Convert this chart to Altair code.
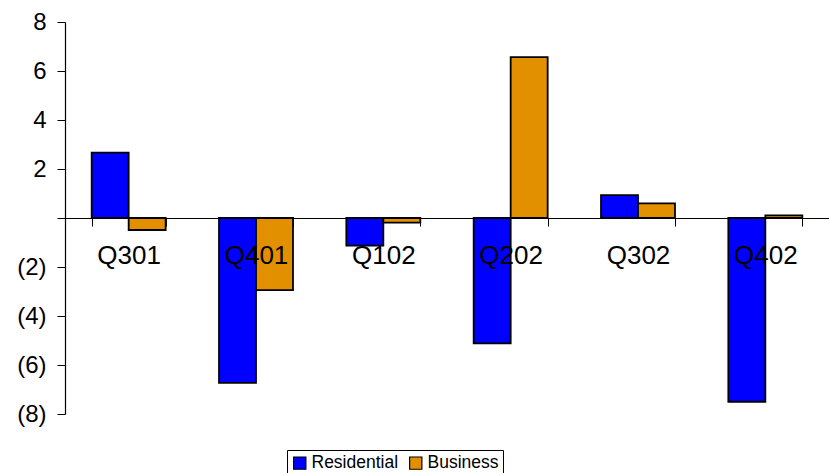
import altair as alt
import pandas as pd

quarters = ["Q301", "Q401", "Q102", "Q202", "Q302", "Q402"]
residential = [2.67, -6.73, -1.13, -5.12, 0.93, -7.5]
business = [-0.49, -2.94, -0.19, 6.57, 0.6, 0.11]
series = ["Residential", "Business"]
colors = ["#0000FF", "#E39000"]

rows = []
for q, r, b in zip(quarters, residential, business):
    rows.append({"quarter": q, "series": "Residential", "value": r})
    rows.append({"quarter": q, "series": "Business", "value": b})
df = pd.DataFrame(rows)

FONT = "Liberation Sans"
W, H = 764, 392

bars = alt.Chart(df).mark_bar(stroke="black", strokeWidth=1.8).encode(
    x=alt.X(
        "quarter:N",
        sort=quarters,
        scale=alt.Scale(paddingInner=0.419, paddingOuter=0.2095),
        axis=alt.Axis(
            title=None,
            offset=-196,
            zindex=1,
            domainColor="black",
            domainWidth=1.2,
            tickColor="black",
            tickBand="extent",
            tickSize=8,
            labelAngle=0,
            labelFont=FONT,
            labelFontSize=26,
            labelColor="black",
            labelPadding=16,
            labelBaseline="top",
            grid=False,
        ),
    ),
    xOffset=alt.XOffset("series:N", sort=series),
    y=alt.Y(
        "value:Q",
        scale=alt.Scale(domain=[-8, 8], nice=False, zero=True),
        axis=alt.Axis(
            title=None,
            values=[-8, -6, -4, -2, 0, 2, 4, 6, 8],
            labelExpr="datum.value == 0 ? '' : (datum.value < 0 ? '(' + (-datum.value) + ')' : '' + datum.value)",
            domainColor="black",
            domainWidth=1.2,
            tickColor="black",
            tickSize=8,
            labelFont=FONT,
            labelFontSize=24,
            labelColor="black",
            labelPadding=11,
            grid=False,
        ),
    ),
    color=alt.Color(
        "series:N",
        sort=series,
        scale=alt.Scale(domain=series, range=colors),
        legend=alt.Legend(
            title=None,
            orient="none",
            legendX=222,
            legendY=428,
            direction="horizontal",
            symbolType="square",
            symbolSize=150,
            symbolStrokeColor="black",
            symbolStrokeWidth=1.2,
            symbolOpacity=1,
            labelFont=FONT,
            labelFontSize=17.5,
            labelColor="black",
            labelOffset=3,
            columnPadding=8,
            strokeColor="black",
            padding=4,
        ),
    ),
)

chart = bars.properties(
    width=W,
    height=H,
    background="white",
    autosize=alt.AutoSizeParams(type="none"),
    padding={"left": 65, "top": 22, "right": 0, "bottom": 59},
).configure_view(stroke=None)

chart.save("out.html", embed_options={"renderer": "svg", "actions": False})
